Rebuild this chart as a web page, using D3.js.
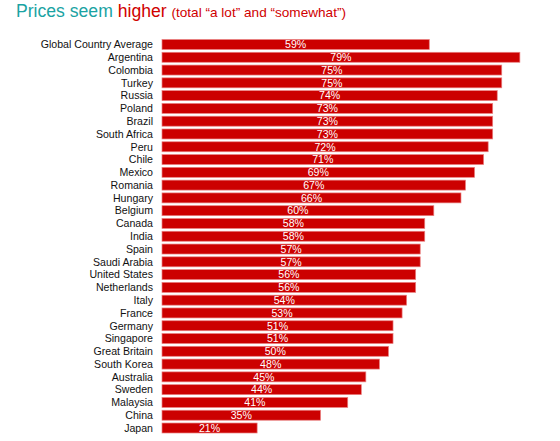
<!DOCTYPE html>
<html>
<head>
<meta charset="utf-8">
<script src="https://cdn.jsdelivr.net/npm/d3@7"></script>
<style>
  body { margin: 0; background: #fff; }
  svg { display: block; font-family: Arial, "Liberation Sans", sans-serif; }
</style>
</head>
<body>
<div id="chart"></div>
<script>
const countries = ["Global Country Average", "Argentina", "Colombia", "Turkey", "Russia", "Poland",
    "Brazil", "South Africa", "Peru", "Chile", "Mexico", "Romania", "Hungary", "Belgium", "Canada",
    "India", "Spain", "Saudi Arabia", "United States", "Netherlands", "Italy", "France", "Germany",
    "Singapore", "Great Britain", "South Korea", "Australia", "Sweden", "Malaysia", "China", "Japan"];
const values = [59, 79, 75, 75, 74, 73, 73, 73, 72, 71, 69, 67, 66, 60, 58, 58, 57, 57, 56, 56,
    54, 53, 51, 51, 50, 48, 45, 44, 41, 35, 21];

function drawChart() {
    const width = 560;
    const height = 441;

    const svg = d3.select("#chart")
        .append("svg")
        .attr("width", width)
        .attr("height", height);

    const rows = countries.map((c, i) => ({ country: c, value: values[i] }));

    const x = d3.scaleLinear().domain([0, 100]).range([162, 615]);
    const y = d3.scaleBand()
        .domain(countries)
        .range([38.1, 434.4])
        .paddingInner(0.22)
        .paddingOuter(0.11);

    // title
    const title = svg.append("text")
        .attr("x", 16)
        .attr("y", 17);
    title.append("tspan").text("Prices seem ")
        .attr("fill", "#1aa3a3")
        .style("font-size", "17.6px");
    title.append("tspan").text("higher ")
        .attr("fill", "#d00000")
        .style("font-size", "17.6px");
    title.append("tspan").text("(total \u201ca lot\u201d and \u201csomewhat\u201d)")
        .attr("fill", "#d00000")
        .style("font-size", "13.6px");

    svg.append("g")
        .selectAll("rect")
        .data(rows)
        .enter().append("rect")
        .attr("x", x(0))
        .attr("y", d => y(d.country))
        .attr("width", d => x(d.value) - x(0))
        .attr("height", y.bandwidth())
        .attr("fill", "#cc0000")
        .attr("stroke", "#ea8080")
        .attr("stroke-width", 0.7);

    svg.append("g")
        .selectAll("text")
        .data(rows)
        .enter().append("text")
        .attr("x", 153)
        .attr("y", d => y(d.country) + y.bandwidth() / 2)
        .attr("dy", "0.36em")
        .attr("text-anchor", "end")
        .style("font-size", "10.6px")
        .style("fill", "#111")
        .text(d => d.country);

    svg.append("g")
        .selectAll("text")
        .data(rows)
        .enter().append("text")
        .attr("x", d => (x(0) + x(d.value)) / 2)
        .attr("y", d => y(d.country) + y.bandwidth() / 2)
        .attr("dy", "0.36em")
        .attr("text-anchor", "middle")
        .style("font-size", "10.6px")
        .style("fill", "#fff")
        .text(d => d.value + "%");
}

drawChart();
</script>
</body>
</html>
